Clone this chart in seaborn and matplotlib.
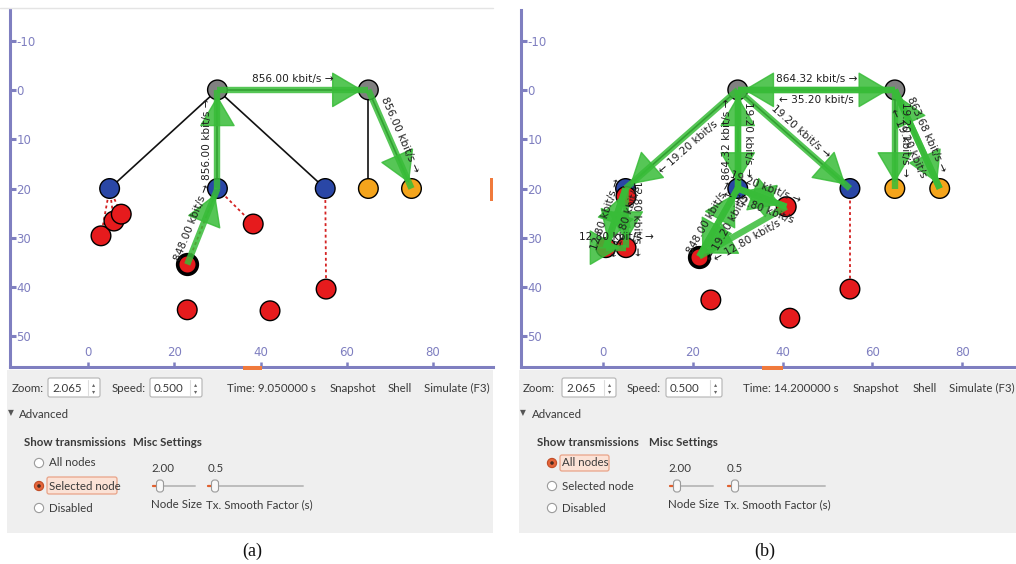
import numpy as np
import pandas as pd
import matplotlib
matplotlib.use("Agg")
import matplotlib.pyplot as plt
from matplotlib.patches import Rectangle, FancyBboxPatch, Circle
import seaborn as sns

sns.set_theme(style="white")
plt.rcParams["font.family"] = ["Lato", "DejaVu Sans"]
plt.rcParams["axes.unicode_minus"] = False

# node types (same network in both snapshots)
node_kind = ["router", "router", "ap", "ap", "ap", "server", "server",
             "sta", "sta", "sta", "sta", "sta", "sta", "sta", "sta"]

# (a) snapshot at t = 9.05 s, node positions in m
a_x = [30, 65, 5, 30, 55, 65, 75, 3.0, 6.0, 7.7, 23.0, 38.3, 55.2, 23.0, 42.2]
a_y = [0, 0, 20, 20, 20, 20, 20, 29.6, 26.6, 25.2, 35.4, 27.2, 40.4, 44.6, 44.8]
# (b) snapshot at t = 14.2 s
b_x = [30, 65, 5, 30, 55, 65, 75, 0.6, 5.1, 5.1, 21.4, 40.8, 55.0, 24.0, 41.6]
b_y = [0, 0, 20, 20, 20, 20, 20, 32.0, 32.0, 21.6, 33.8, 23.7, 40.4, 42.6, 46.3]

wired_links = [(0, 1), (0, 2), (0, 3), (0, 4), (1, 5), (1, 6)]
wifi_links = [(2, 7), (2, 8), (2, 9), (3, 10), (3, 11), (4, 12)]
selected_node = 10

# transmissions shown (src node, dst node, kbit/s)
a_tx_src = [0, 1, 3, 10]
a_tx_dst = [1, 6, 0, 3]
a_tx_rate = [856.00, 856.00, 856.00, 848.00]

b_tx_src = [0, 1, 0, 0, 3, 0, 1, 6, 1, 10, 3, 3, 11, 11, 2, 2, 7, 7]
b_tx_dst = [1, 0, 2, 3, 0, 4, 6, 1, 5, 3, 10, 11, 3, 10, 7, 8, 2, 8]
b_tx_rate = [864.32, 35.20, 19.20, 19.20, 864.32, 19.20, 863.68, 19.20, 19.20,
             848.00, 19.20, 19.20, 12.80, 12.80, 12.80, 12.80, 12.80, 12.80]

x_ticks = [0, 20, 40, 60, 80]
y_ticks = [-10, 0, 10, 20, 30, 40, 50]

# control panel values
a_time = "Time: 9.050000 s"
b_time = "Time: 14.200000 s"
zoom_val = "2.065"
speed_val = "0.500"
node_size_val = "2.00"
smooth_val = "0.5"
radio_labels = ["All nodes", "Selected node", "Disabled"]

NODE_COLORS = {"router": "#808080", "ap": "#2a47a6", "server": "#f4a41c", "sta": "#e61b1d"}
GREEN = "#38bc38"
PURPLE = "#7f7fc0"
PANEL_BG = "#efefef"
TXT = "#3a3a3a"
UI_FS = 8.3


def draw_tx(ax, xs, ys, s, d, rate):
    inv = ax.transData.inverted()
    p0 = ax.transData.transform((xs[s], ys[s]))
    p1 = ax.transData.transform((xs[d], ys[d]))
    u = (p1 - p0) / np.hypot(*(p1 - p0))
    ang = np.degrees(np.arctan2(u[1], u[0]))
    ax.plot([xs[s], xs[d]], [ys[s], ys[d]], color=GREEN, lw=4.6, alpha=0.85,
            solid_capstyle="butt", zorder=4)
    tip = p1 - u * 6
    base = tip - u * 24
    ax.annotate("", xy=inv.transform(tip), xytext=inv.transform(base),
                arrowprops=dict(arrowstyle="-|>,head_length=1.7,head_width=1.0",
                                color=GREEN, lw=1, alpha=0.85, shrinkA=0, shrinkB=0),
                zorder=4)
    if -90.5 <= ang <= 90.5:
        label, rot = f"{rate:.2f} kbit/s →", ang
    else:
        label, rot = f"← {rate:.2f} kbit/s", ang - 180 if ang > 0 else ang + 180
    n = np.array([-u[1], u[0]])
    mid = (p0 + p1) / 2 + n * 10.5
    mx, my = inv.transform(mid)
    ax.text(mx, my, label, rotation=rot, rotation_mode="anchor", ha="center",
            va="center", fontsize=7.6, color="#1e1e1e", family="DejaVu Sans", zorder=5)


def draw_view(ax, xs, ys, src, dst, rate, xlim):
    ylim = (56.2, -16.2)
    ax.set_xlim(*xlim)
    ax.set_ylim(*ylim)
    for i, j in wired_links:
        ax.plot([xs[i], xs[j]], [ys[i], ys[j]], color="#111111", lw=1.2, zorder=1)
    for i, j in wifi_links:
        ax.plot([xs[i], xs[j]], [ys[i], ys[j]], color="#d42222", lw=1.3,
                linestyle=(0, (1.6, 1.6)), zorder=1)
    nodes = pd.DataFrame({"x": xs, "y": ys, "kind": node_kind})
    sns.scatterplot(data=nodes, x="x", y="y", hue="kind", palette=NODE_COLORS,
                    s=200, edgecolor="black", linewidth=1.0, legend=False, ax=ax, zorder=3)
    sel = nodes.iloc[[selected_node]]
    sns.scatterplot(data=sel, x="x", y="y", hue="kind", palette=NODE_COLORS,
                    s=200, edgecolor="black", linewidth=2.6, legend=False, ax=ax, zorder=3)
    ax.set_xlim(*xlim)
    ax.set_ylim(*ylim)
    ax.set_xlabel("")
    ax.set_ylabel("")
    for s, d, r in zip(src, dst, rate):
        draw_tx(ax, xs, ys, s, d, r)

    for side in ["top", "right"]:
        ax.spines[side].set_visible(False)
    for side in ["left", "bottom"]:
        ax.spines[side].set_color(PURPLE)
        ax.spines[side].set_linewidth(2.2)
    ax.set_xticks(x_ticks)
    ax.set_yticks(y_ticks)
    ax.tick_params(axis="y", direction="in", length=4.5, width=2.2, color=PURPLE,
                   labelcolor=PURPLE, labelsize=8.5, pad=-4.5, left=True)
    ax.tick_params(axis="x", direction="in", length=3.5, width=1.8, color=PURPLE,
                   labelcolor=PURPLE, labelsize=8.5, pad=-6, bottom=True)
    for t in ax.get_yticklabels():
        t.set_ha("left")
        t.set_family("DejaVu Sans")
    for t in ax.get_xticklabels():
        t.set_va("bottom")
        t.set_family("DejaVu Sans")
    ax.grid(False)


def spinbox(ui, x0, x1, value):
    ui.add_patch(FancyBboxPatch((x0, 378), x1 - x0, 19, boxstyle="round,pad=0,rounding_size=2",
                                fc="white", ec="#b3b3b3", lw=0.8, zorder=2))
    ui.plot([x1 - 12, x1 - 12], [380, 395], color="#dddddd", lw=0.8, zorder=3)
    ui.text(x0 + 4, 388, value, fontsize=UI_FS, color=TXT, va="center", zorder=3)
    ui.text(x1 - 6, 384.5, "▴", fontsize=4.5, color="#666666", ha="center", va="center",
            family="DejaVu Sans", zorder=3)
    ui.text(x1 - 6, 391.5, "▾", fontsize=4.5, color="#666666", ha="center", va="center",
            family="DejaVu Sans", zorder=3)


def slider(ui, x0, x1, xh):
    ui.plot([x0, x1], [486, 486], color="#bcbcbc", lw=1.4, zorder=2)
    ui.plot([x0, xh], [486, 486], color="#e2602e", lw=1.6, zorder=2)
    ui.add_patch(FancyBboxPatch((xh - 3.5, 480), 7, 12, boxstyle="round,pad=0,rounding_size=3",
                                fc="#f8f8f8", ec="#9a9a9a", lw=0.8, zorder=3))


def draw_panel(ui, p):
    ui.add_patch(Rectangle((p["bg"][0], 370), p["bg"][1] - p["bg"][0], 163,
                           color=PANEL_BG, lw=0, zorder=0))
    kw = dict(fontsize=UI_FS, color=TXT, va="center", zorder=3)
    ui.text(p["zoom"], 388, "Zoom:", **kw)
    spinbox(ui, *p["box1"], zoom_val)
    ui.text(p["speed"], 388, "Speed:", **kw)
    spinbox(ui, *p["box2"], speed_val)
    ui.text(p["time"], 388, p["time_txt"], **kw)
    ui.text(p["snap"], 388, "Snapshot", **kw)
    ui.text(p["shell"], 388, "Shell", **kw)
    ui.text(p["sim"], 388, "Simulate (F3)", **kw)
    ui.text(p["tri"], 413, "▼", fontsize=5.5, color="#555555", va="center",
            family="DejaVu Sans", zorder=3)
    ui.text(p["adv"], 414, "Advanced", **kw)
    ui.text(p["show"], 443, "Show transmissions", fontweight="bold", **kw)
    ui.text(p["misc"], 443, "Misc Settings", fontweight="bold", **kw)
    hx0, hx1, hy0, hy1 = p["hl"]
    ui.add_patch(FancyBboxPatch((hx0, hy0), hx1 - hx0, hy1 - hy0,
                                boxstyle="round,pad=0,rounding_size=2",
                                fc="#fbe2d6", ec="#e9a388", lw=0.9, zorder=1))
    for k, (yy, lab) in enumerate(zip([463, 486, 508], radio_labels)):
        if k == p["checked"]:
            ui.add_patch(Circle((p["radio"], yy), 4.6, fc="#e5653a", ec="#c24d26", lw=0.8, zorder=3))
            ui.add_patch(Circle((p["radio"], yy), 1.8, fc="#4a2a20", lw=0, zorder=4))
        else:
            ui.add_patch(Circle((p["radio"], yy), 4.6, fc="white", ec="#9b9b9b", lw=0.8, zorder=3))
        ui.text(p["radio"] + 10, yy, lab, **kw)
    ui.text(p["ns"], 468, node_size_val, **kw)
    ui.text(p["sm"], 468, smooth_val, **kw)
    slider(ui, *p["sl1"])
    slider(ui, *p["sl2"])
    ui.text(p["ns"], 505, "Node Size", **kw)
    ui.text(p["sm2"], 505, "Tx. Smooth Factor (s)", **kw)
    ui.text(p["cap"], 551, p["cap_txt"], fontsize=13, color="#111111", ha="center",
            va="center", family="Liberation Serif", zorder=3)
    for (rx, ry, rw, rh) in p["marks"]:
        ui.add_patch(Rectangle((rx, ry), rw, rh, color="#f07a3c", lw=0, zorder=5))


fig = plt.figure(figsize=(10.16, 5.64), dpi=100)
fig.patch.set_facecolor("white")

ax_a = fig.add_axes([10 / 1016, (564 - 367) / 564, 483 / 1016, 357 / 564])
ax_b = fig.add_axes([521 / 1016, (564 - 367) / 564, 495 / 1016, 357 / 564])
draw_view(ax_a, a_x, a_y, a_tx_src, a_tx_dst, a_tx_rate, (-18.1, 93.9))
draw_view(ax_b, b_x, b_y, b_tx_src, b_tx_dst, b_tx_rate, (-18.3, 92.0))

ui = fig.add_axes([0, 0, 1, 1], zorder=10)
ui.set_xlim(0, 1016)
ui.set_ylim(564, 0)
ui.axis("off")
ui.plot([0, 493], [7.5, 7.5], color="#e4e4e4", lw=1)

panel_a = dict(bg=(7, 493), zoom=12, box1=(48, 100), speed=112, box2=(150, 202),
               time=227, time_txt=a_time, snap=330, shell=388, sim=424, tri=8, adv=19,
               show=24, misc=133, hl=(47, 117, 477, 494), checked=1, radio=39,
               ns=151, sm=208, sl1=(153, 195, 160), sl2=(208, 303, 215), sm2=206,
               cap=252, cap_txt="(a)",
               marks=[(490, 178, 3, 23), (243, 366, 19, 4)])
panel_b = dict(bg=(519, 1016), zoom=523, box1=(562, 616), speed=627, box2=(666, 722),
               time=743, time_txt=b_time, snap=853, shell=913, sim=949, tri=520, adv=532,
               show=537, misc=649, hl=(560, 609, 455, 471), checked=0, radio=552,
               ns=668, sm=727, sl1=(670, 713, 677), sl2=(728, 825, 735), sm2=724,
               cap=765, cap_txt="(b)",
               marks=[(762, 366, 21, 4)])
draw_panel(ui, panel_a)
draw_panel(ui, panel_b)

fig.savefig("out.png", dpi=100)
